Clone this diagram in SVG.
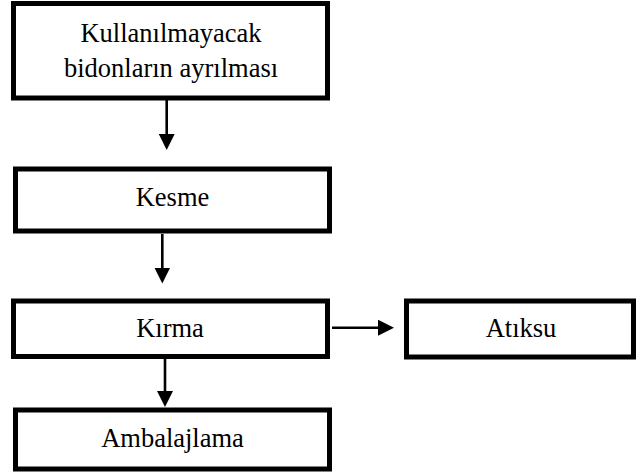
<svg xmlns="http://www.w3.org/2000/svg" width="636" height="476" viewBox="0 0 636 476">
<defs>
<style>
.box{fill:#fff;stroke:#000;stroke-width:5}
.lbl{font-family:"Liberation Serif","Times New Roman",serif;font-size:26.5px;fill:#000;text-anchor:middle}
.con{stroke:#000;stroke-width:2.6;fill:none}
</style>
<marker id="ah" markerUnits="userSpaceOnUse" markerWidth="16" markerHeight="16" refX="2" refY="8" orient="auto" viewBox="0 0 16 16">
<path d="M0,0 L16,8 L0,16 Z" fill="#000"/>
</marker>
</defs>
<rect width="636" height="476" fill="#fff"/>
<g id="n1">
<rect class="box" x="13.5" y="3.5" width="314" height="94.5"/>
<text class="lbl" x="171" y="42">Kullanılmayacak</text>
<text class="lbl" x="171" y="77">bidonların ayrılması</text>
</g>
<g id="n2">
<rect class="box" x="15.5" y="169" width="314" height="62"/>
<text class="lbl" x="172.5" y="206">Kesme</text>
</g>
<g id="n3">
<rect class="box" x="13.5" y="301" width="314" height="55.5"/>
<text class="lbl" x="170" y="337">Kırma</text>
</g>
<g id="n4">
<rect class="box" x="406.5" y="301" width="227" height="56"/>
<text class="lbl" x="521" y="337">Atıksu</text>
</g>
<g id="n5">
<rect class="box" x="15.5" y="410" width="314" height="59"/>
<text class="lbl" x="172.5" y="447">Ambalajlama</text>
</g>
<g id="connectors">
<line class="con" x1="166.7" y1="100" x2="166.7" y2="136" marker-end="url(#ah)"/>
<line class="con" x1="162.3" y1="234" x2="162.3" y2="269.5" marker-end="url(#ah)"/>
<line class="con" x1="165" y1="359" x2="165" y2="393" marker-end="url(#ah)"/>
<line class="con" x1="332" y1="327.7" x2="380" y2="327.7" marker-end="url(#ah)"/>
</g>
</svg>
